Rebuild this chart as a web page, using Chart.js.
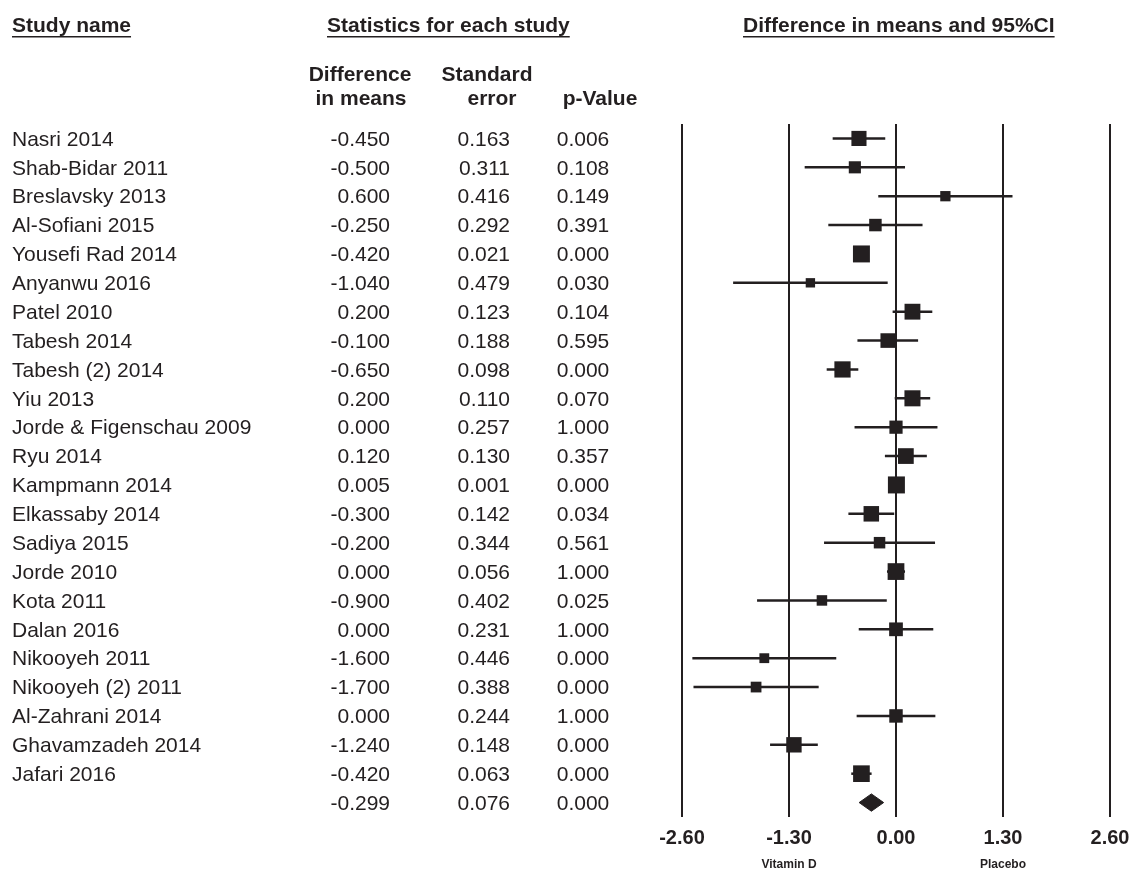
<!DOCTYPE html>
<html>
<head>
<meta charset="utf-8">
<script src="https://cdn.jsdelivr.net/npm/chart.js@4.4.1/dist/chart.umd.min.js"></script>
<style>
  html, body { margin: 0; padding: 0; background: #fff; }
  #wrap { width: 1136px; height: 870px; }
</style>
</head>
<body>
<div id="wrap"><canvas id="forest" width="1136" height="870"></canvas></div>
<script>
const studies = [
  'Nasri 2014', 'Shab-Bidar 2011', 'Breslavsky 2013', 'Al-Sofiani 2015', 'Yousefi Rad 2014',
  'Anyanwu 2016', 'Patel 2010', 'Tabesh 2014', 'Tabesh (2) 2014', 'Yiu 2013',
  'Jorde & Figenschau 2009', 'Ryu 2014', 'Kampmann 2014', 'Elkassaby 2014', 'Sadiya 2015',
  'Jorde 2010', 'Kota 2011', 'Dalan 2016', 'Nikooyeh 2011', 'Nikooyeh (2) 2011',
  'Al-Zahrani 2014', 'Ghavamzadeh 2014', 'Jafari 2016'
]
const diffs = [
  -0.450, -0.500, 0.600, -0.250, -0.420,
  -1.040, 0.200, -0.100, -0.650, 0.200,
  0.000, 0.120, 0.005, -0.300, -0.200,
  0.000, -0.900, 0.000, -1.600, -1.700,
  0.000, -1.240, -0.420
]
const stdErrs = [
  0.163, 0.311, 0.416, 0.292, 0.021,
  0.479, 0.123, 0.188, 0.098, 0.110,
  0.257, 0.130, 0.001, 0.142, 0.344,
  0.056, 0.402, 0.231, 0.446, 0.388,
  0.244, 0.148, 0.063
]
const pValues = [
  0.006, 0.108, 0.149, 0.391, 0.000,
  0.030, 0.104, 0.595, 0.000, 0.070,
  1.000, 0.357, 0.000, 0.034, 0.561,
  1.000, 0.025, 1.000, 0.000, 0.000,
  1.000, 0.000, 0.000
]
const summaryDiff = -0.299
const summarySE = 0.076
const summaryP = 0.000
const xTicks = [-2.6, -1.3, 0, 1.3, 2.6]
const leftLabel = 'Vitamin D'
const rightLabel = 'Placebo'

const INK = '#231f20'
const FONT = "'Liberation Sans', Arial, sans-serif"
const TAU2 = 0.1          // between-study variance used for marker weights
const MAX_SIDE = 17       // square side for the heaviest study, px
const DIAMOND_H = 0.3     // half height of the summary diamond, in rows

// marker size grows with the random-effects weight of each study
const weights = stdErrs.map(se => 1 / (se * se + TAU2))
const wMax = Math.max(...weights)
const radii = weights.map(w => MAX_SIDE * Math.sqrt(w / wMax) / 2 / Math.SQRT1_2)

const squares = {
  data: diffs.map((d, i) => ({ x: d, y: i })),
  pointStyle: 'rect',
  pointRadius: radii,
  pointHoverRadius: radii,
  backgroundColor: INK,
  borderColor: INK,
  borderWidth: 0,
  clip: false
}

const sLo = summaryDiff - 1.96 * summarySE
const sHi = summaryDiff + 1.96 * summarySE
const sRow = studies.length
const diamond = {
  data: [
    { x: sLo, y: sRow }, { x: summaryDiff, y: sRow - DIAMOND_H },
    { x: sHi, y: sRow }, { x: summaryDiff, y: sRow + DIAMOND_H }, { x: sLo, y: sRow }
  ],
  showLine: true,
  fill: 'shape',
  backgroundColor: INK,
  borderColor: INK,
  borderWidth: 1,
  pointRadius: 0,
  clip: false
}

const whiskers = diffs.map((d, i) => ({
  data: [{ x: d - 1.96 * stdErrs[i], y: i }, { x: d + 1.96 * stdErrs[i], y: i }],
  showLine: true,
  borderColor: INK,
  borderWidth: 2.5,
  pointRadius: 0,
  clip: false
}))

function fmt(v) { return v.toFixed(3) }

function underlined(ctx, text, x, y) {
  ctx.fillText(text, x, y)
  const w = ctx.measureText(text).width
  ctx.fillRect(x, y + 4, w, 1.5)
}

// study table on the left, drawn against the same y scale as the markers
const tablePlugin = {
  id: 'table',
  afterDraw(chart) {
    const ctx = chart.ctx
    const y = chart.scales.y
    const x = chart.scales.x
    ctx.save()
    ctx.fillStyle = INK

    ctx.font = `bold 21px ${FONT}`
    ctx.textBaseline = 'alphabetic'
    ctx.textAlign = 'left'
    underlined(ctx, 'Study name', 12, 32)
    underlined(ctx, 'Statistics for each study', 327, 32)
    underlined(ctx, 'Difference in means and 95%CI', 743, 32)

    ctx.textAlign = 'center'
    ctx.fillText('Difference', 360, 81)
    ctx.fillText('in means', 361, 105)
    ctx.fillText('Standard', 487, 81)
    ctx.fillText('error', 492, 105)
    ctx.fillText('p-Value', 600, 105)

    ctx.font = `21px ${FONT}`
    ctx.textBaseline = 'middle'
    const rows = studies.map((s, i) => [s, diffs[i], stdErrs[i], pValues[i]])
    rows.push(['', summaryDiff, summarySE, summaryP])
    rows.forEach((r, i) => {
      const py = y.getPixelForValue(i) + 1.5
      ctx.textAlign = 'left'
      ctx.fillText(r[0], 12, py)
      ctx.textAlign = 'right'
      ctx.fillText(fmt(r[1]), 390, py)
      ctx.fillText(fmt(r[2]), 510, py)
      ctx.textAlign = 'center'
      ctx.fillText(fmt(r[3]), 583, py)
    })

    ctx.font = `bold 12px ${FONT}`
    ctx.textBaseline = 'top'
    ctx.fillText(leftLabel, x.getPixelForValue(-1.3), 859)
    ctx.fillText(rightLabel, x.getPixelForValue(1.3), 859)
    ctx.restore()
  }
}

new Chart(document.getElementById('forest'), {
  type: 'scatter',
  data: { datasets: [squares, diamond, ...whiskers] },
  options: {
    responsive: false,
    animation: false,
    events: [],
    layout: { padding: { left: 682, right: 26, top: 124, bottom: 0 } },
    plugins: { legend: { display: false }, tooltip: { enabled: false } },
    scales: {
      x: {
        type: 'linear',
        min: xTicks[0],
        max: xTicks[xTicks.length - 1],
        afterBuildTicks: s => { s.ticks = xTicks.map(v => ({ value: v })) },
        afterFit: s => { s.height = 53; s.paddingLeft = 0; s.paddingRight = 0 },
        border: { display: false },
        grid: { color: INK, lineWidth: 2, drawTicks: false },
        ticks: {
          color: INK,
          padding: 9,
          maxRotation: 0,
          font: { family: FONT, size: 20, weight: 'bold' },
          callback: v => v.toFixed(2)
        }
      },
      y: {
        type: 'linear',
        display: false,
        reverse: true,
        min: -0.5,
        max: studies.length + 0.5
      }
    }
  },
  plugins: [tablePlugin]
})
</script>
</body>
</html>
